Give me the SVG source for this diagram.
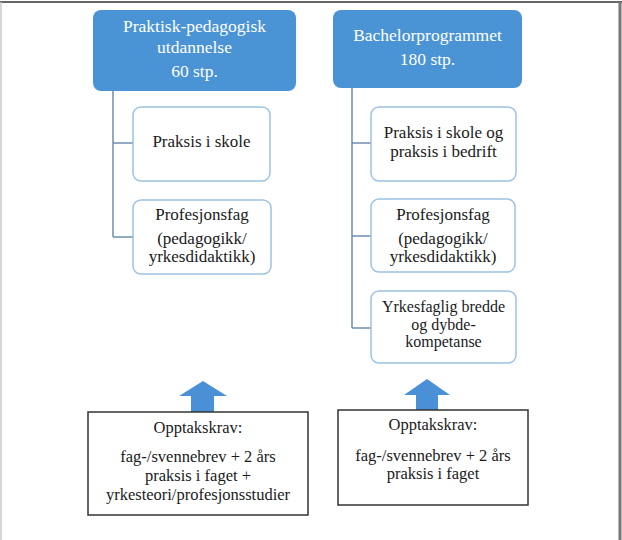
<svg xmlns="http://www.w3.org/2000/svg" width="622" height="540" viewBox="0 0 622 540">
<style>
text{font-family:"Liberation Serif","Times New Roman",serif;text-anchor:middle;fill:#1a1a1a}
.head rect{fill:#4a94d6}
.head text{fill:#ffffff;font-size:17.5px}
.child rect{fill:#ffffff;stroke:#9cc2e4;stroke-width:1.5}
.child text{font-size:17px}
.child text.tight{font-size:16px}
.req rect{fill:#ffffff;stroke:#333333;stroke-width:1.5}
.req text{font-size:16.5px}
.conn path{fill:none;stroke:#6f8fae;stroke-width:1.5}
.arrow{fill:#4a90d6}
</style>
<rect x="0" y="0" width="622" height="540" fill="#ffffff"/>
<line x1="0" y1="2" x2="622" y2="2" stroke="#666" stroke-width="2"/>
<line x1="620" y1="2" x2="620" y2="540" stroke="#777" stroke-width="3"/>
<line x1="1" y1="2" x2="1" y2="540" stroke="#c8c8c8" stroke-width="1.5"/>

<g id="connectors" class="conn">
<path d="M113 91 V237 M113 143 H133 M113 237 H133"/>
<path d="M352 88 V328 M352 143 H371 M352 236 H371 M352 328 H371"/>
</g>

<g id="ppu" class="head">
<rect x="93" y="10" width="203" height="81" rx="8"/>
<text x="194.5" y="32">Praktisk-pedagogisk</text>
<text x="194.5" y="53">utdannelse</text>
<text x="194.5" y="77">60 stp.</text>
</g>
<g id="bachelor" class="head">
<rect x="333" y="10" width="189" height="78" rx="8"/>
<text x="427.5" y="41">Bachelorprogrammet</text>
<text x="427.5" y="65">180 stp.</text>
</g>

<g id="ppu-praksis" class="child">
<rect x="133" y="107" width="137" height="74" rx="8"/>
<text x="201.5" y="147">Praksis i skole</text>
</g>
<g id="ppu-profesjon" class="child">
<rect x="133" y="200" width="138" height="74" rx="8"/>
<text x="202" y="220">Profesjonsfag</text>
<text x="202" y="244">(pedagogikk/</text>
<text x="202" y="262">yrkesdidaktikk)</text>
</g>

<g id="ba-praksis" class="child">
<rect x="371" y="107" width="145" height="74" rx="8"/>
<text x="443.5" y="138">Praksis i skole og</text>
<text x="443.5" y="157">praksis i bedrift</text>
</g>
<g id="ba-profesjon" class="child">
<rect x="371" y="199" width="144" height="73" rx="8"/>
<text x="443" y="220">Profesjonsfag</text>
<text x="443" y="244">(pedagogikk/</text>
<text x="443" y="262">yrkesdidaktikk)</text>
</g>
<g id="ba-yrkesfag" class="child">
<rect x="371" y="291" width="145" height="72" rx="8"/>
<text class="tight" x="443.5" y="312">Yrkesfaglig bredde</text>
<text class="tight" x="443.5" y="329.5">og dybde-</text>
<text class="tight" x="443.5" y="347">kompetanse</text>
</g>

<g id="arrow-left">
<polygon class="arrow" points="203,381 227,396 214,396 214,412 191,412 191,396 179,396"/>
</g>
<g id="arrow-right">
<polygon class="arrow" points="427,379 450,395 438,395 438,410 416,410 416,395 404,395"/>
</g>

<g id="req-left" class="req">
<rect x="88" y="412" width="220" height="103"/>
<text x="198" y="433">Opptakskrav:</text>
<text x="198" y="462">fag-/svennebrev + 2 års</text>
<text x="198" y="481">praksis i faget +</text>
<text x="198" y="499.5">yrkesteori/profesjonsstudier</text>
</g>
<g id="req-right" class="req">
<rect x="338" y="410" width="190" height="95"/>
<text x="433" y="430">Opptakskrav:</text>
<text x="433" y="460.5">fag-/svennebrev + 2 års</text>
<text x="433" y="478.5">praksis i faget</text>
</g>
</svg>
